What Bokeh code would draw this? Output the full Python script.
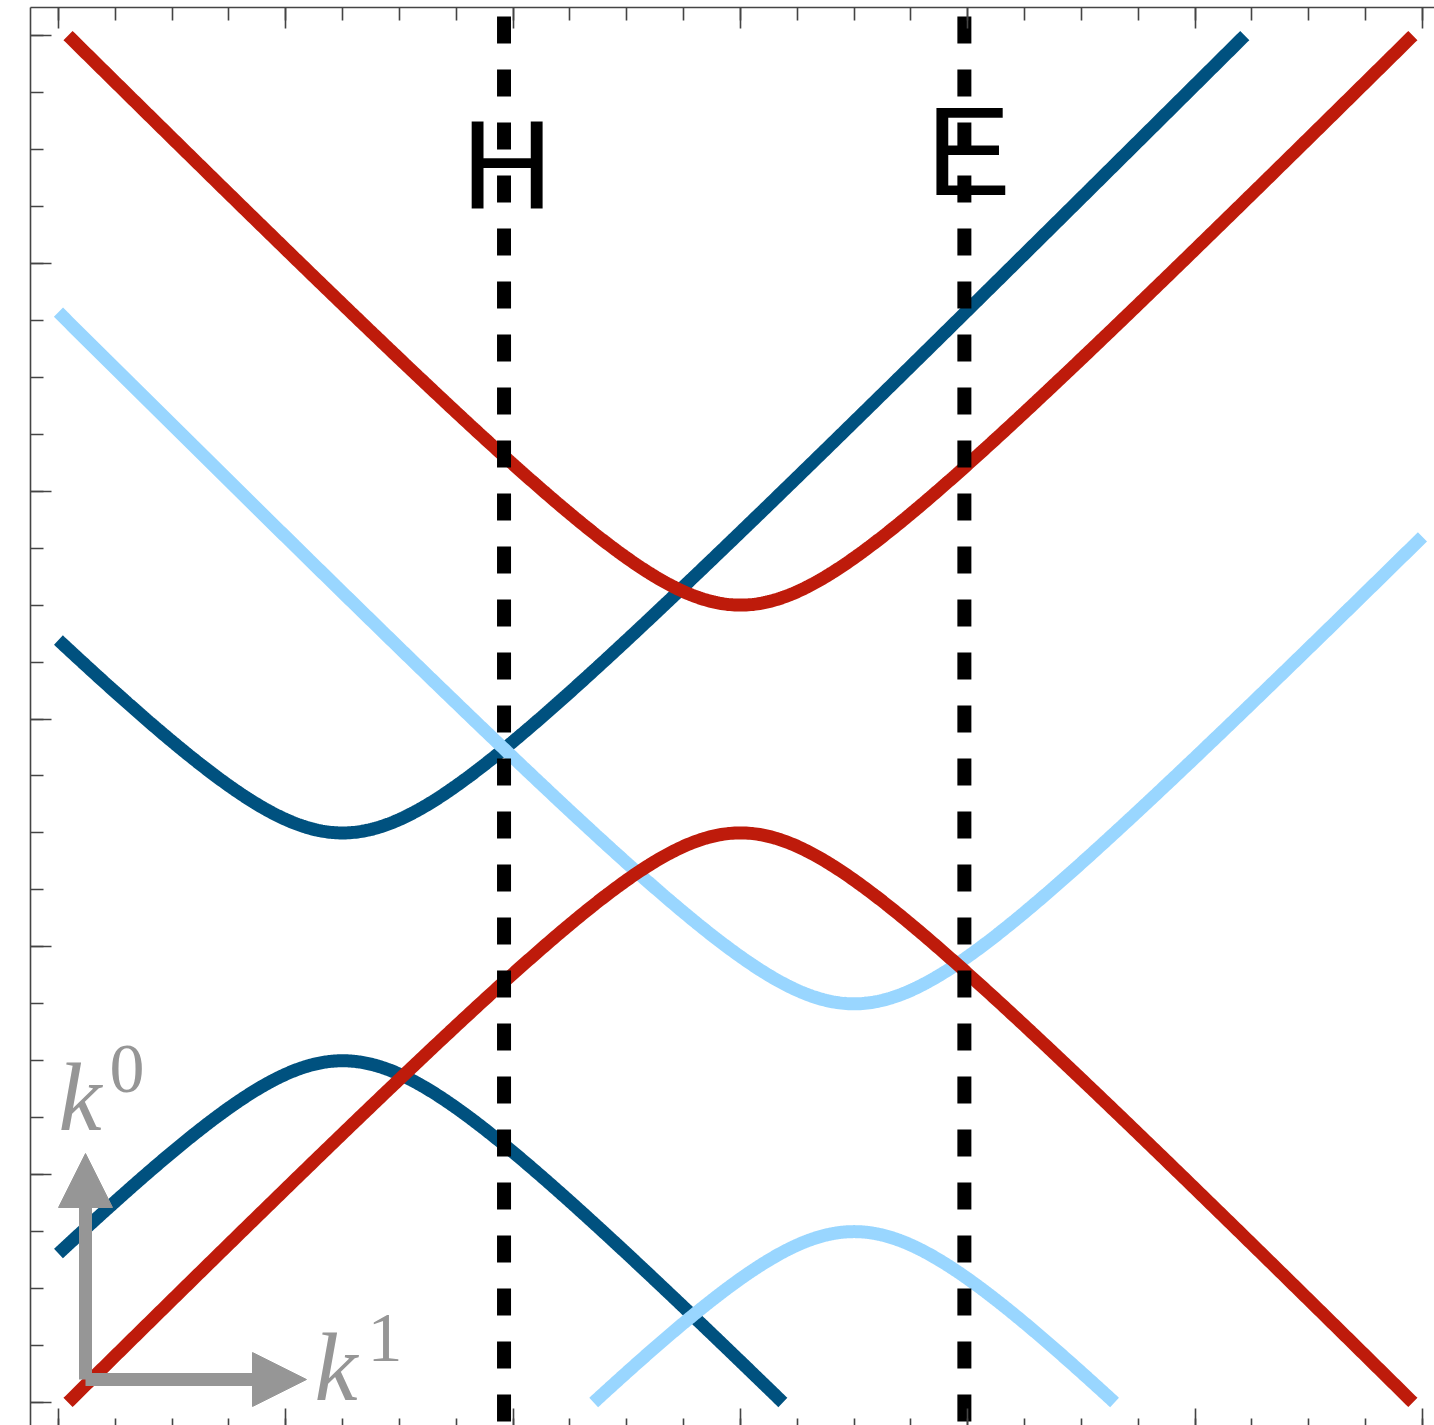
import numpy as np
from bokeh.plotting import figure
from bokeh.models import LinearAxis, FixedTicker, Range1d, Arrow, NormalHead, CustomJSTickFormatter
from bokeh.core.properties import value
from bokeh.embed import file_html
from bokeh.resources import INLINE

# Three gapped bands: k0 = k0_center +/- sqrt((k1 - k1_center)^2 + half_gap^2)
band_names = ["dark", "light", "red"]
k1_center = [-1.75, 0.5, 0.0]
k0_center = [-1.0, -1.75, 0.0]
half_gap = [0.5, 0.5, 0.5]
band_colors = ["#00517F", "#99D6FF", "#BE1B0B"]

# Vertical boundaries and their labels
boundary_k1 = [-1.04, 0.985]
boundary_labels = ["H", "E"]
label_k1 = [-1.027, 1.003]

# Plot range of the bands and tick layout
k_lo, k_hi = -3.0, 3.0
major_ticks = [-3, -2, -1, 0, 1, 2, 3]
minor_ticks = [k / 4 for k in range(-12, 13)]

W, H = 1434, 1425
LEFT, TOP = 30, 7
x_start, x_end = -3.123, 3.053
y_start, y_end = -3.101, 3.123


def px_to_x(px):
    return x_start + (px - LEFT) * (x_end - x_start) / (W - LEFT)


def px_to_y(py):
    return y_end - (py - TOP) * (y_end - y_start) / (H - TOP)


p = figure(width=W, height=H, output_backend="svg", toolbar_location=None,
           x_range=Range1d(x_start, x_end), y_range=Range1d(y_start, y_end),
           min_border_left=LEFT, min_border_top=TOP, min_border_right=0,
           min_border_bottom=0, background_fill_color="white",
           border_fill_color="white")
p.grid.visible = False
p.outline_line_color = None

ticker = FixedTicker(ticks=major_ticks, minor_ticks=minor_ticks)
blank = CustomJSTickFormatter(code="return ''")
bottom_axis = p.below[0]
left_axis = p.left[0]
top_axis = LinearAxis()
p.add_layout(top_axis, "above")
for ax, tin, tmin, show_line in [(bottom_axis, 17, 7, False), (left_axis, 21, 13, True),
                                 (top_axis, 21, 13, True)]:
    ax.ticker = ticker
    ax.formatter = blank
    ax.major_tick_in = tin
    ax.major_tick_out = 0
    ax.minor_tick_in = tmin
    ax.minor_tick_out = 0
    ax.major_label_text_font_size = "0px"
    ax.major_label_standoff = 0
    ax.axis_label = None
    ax.axis_line_color = "#444444" if show_line else None
    ax.axis_line_width = 1.6
    ax.major_tick_line_color = "#444444"
    ax.minor_tick_line_color = "#444444"
    ax.major_tick_line_width = 1.6
    ax.minor_tick_line_width = 1.6

# Bands, clipped to the k0 range
for c1, c0, m, col in zip(k1_center, k0_center, half_gap, band_colors):
    for sign in (1, -1):
        reach = (k_hi - sign * c0) ** 2 - m ** 2
        if reach <= 0:
            continue
        half = np.sqrt(reach)
        xa, xb = max(k_lo, c1 - half), min(k_hi, c1 + half)
        xs = np.linspace(xa, xb, 600)
        ys = c0 + sign * np.sqrt((xs - c1) ** 2 + m ** 2)
        p.line(xs, ys, line_color=col, line_width=13, line_cap="butt")

# Dashed boundaries with their labels
for bx in boundary_k1:
    p.line([bx, bx], [px_to_y(16), y_start - 0.1], line_color="black", line_width=14,
           line_dash="27 26", line_cap="butt")

p.text(x=label_k1, y=[px_to_y(163), px_to_y(150)], text=boundary_labels,
       text_font=value("Liberation Sans"), text_font_size="127px", text_color="black",
       text_align="center", text_baseline="alphabetic")

# Axis key in the lower left corner
grey = "#969696"
ox, oy = px_to_x(85), px_to_y(1379)
head = dict(size=54, fill_color=grey, line_color=grey, line_width=1)
p.add_layout(Arrow(end=NormalHead(**head), x_start=ox, y_start=oy, x_end=ox, y_end=px_to_y(1153),
                   line_color=grey, line_width=13, line_cap="butt"))
p.add_layout(Arrow(end=NormalHead(**head), x_start=ox, y_start=oy, x_end=px_to_x(306), y_end=oy,
                   line_color=grey, line_width=13, line_cap="butt"))

p.text(x=[px_to_x(58), px_to_x(314)], y=[px_to_y(1097), px_to_y(1367)], text=["k", "k"],
       text_font=value("Liberation Serif"), text_font_style="italic", text_font_size="97px",
       text_color=grey, text_align="left", text_baseline="alphabetic")
p.text(x=[px_to_x(109), px_to_x(367)], y=[px_to_y(1068), px_to_y(1337)], text=["0", "1"],
       text_font=value("Liberation Serif"), text_font_size="70px",
       text_color=grey, text_align="left", text_baseline="alphabetic")

open("out.html", "w").write(file_html(p, INLINE))
